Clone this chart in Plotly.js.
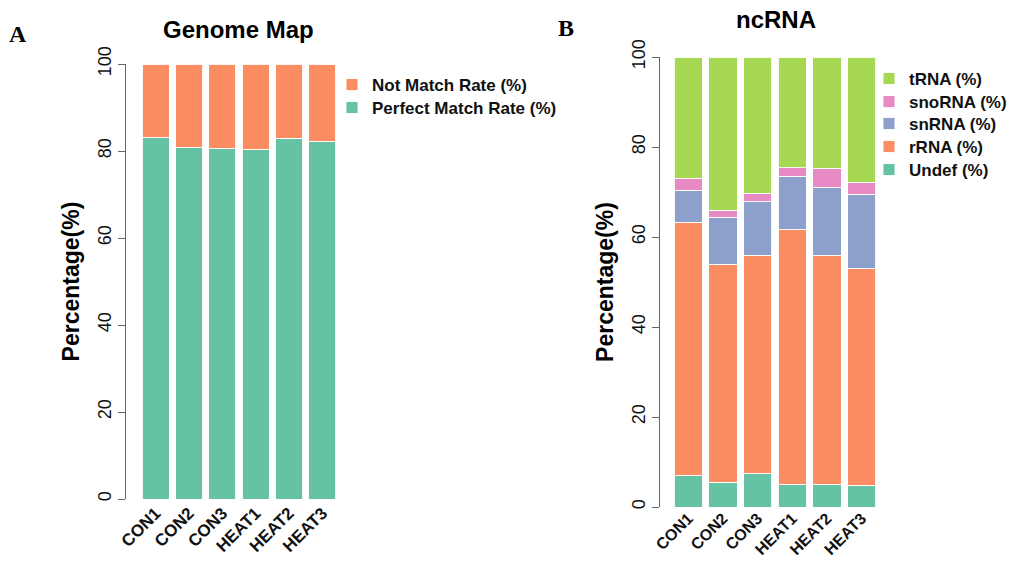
<!DOCTYPE html>
<html>
<head>
<meta charset="utf-8">
<script src="https://cdn.plot.ly/plotly-3.0.1.min.js"></script>
<style>html,body{margin:0;padding:0;background:#fff;}#chart{width:1020px;height:561px;}</style>
</head>
<body>
<div id="chart"></div>
<script>
// Sample names
const samples = ["CON1", "CON2", "CON3", "HEAT1", "HEAT2", "HEAT3"];

// Panel A: Genome Map (%)
const perfectMatch = [83.1, 80.8, 80.5, 80.3, 82.9, 82.1];
const notMatch = [16.9, 19.2, 19.5, 19.7, 17.1, 17.9];

// Panel B: ncRNA composition (%)
const undef = [6.9, 5.5, 7.4, 5.0, 4.9, 4.8];
const rRNA = [56.4, 48.5, 48.6, 56.6, 50.9, 48.2];
const snRNA = [7.1, 10.4, 11.8, 11.9, 15.2, 16.5];
const snoRNA = [2.6, 1.5, 1.8, 1.9, 4.3, 2.7];
const tRNA = [27.0, 34.1, 30.4, 24.6, 24.7, 27.8];

const yTicks = [0, 20, 40, 60, 80, 100];

const C = {green: "#66C2A5", orange: "#FC8D62", blue: "#8DA0CB", pink: "#E78AC3", lime: "#A6D854"};
const edge = {color: "rgba(255,255,255,0.9)", width: 1};
const SANS = "Liberation Sans, Arial, Helvetica, sans-serif";
const W = 1020, H = 561;

function bar(name, vals, color, xa, ya, leg) {
  return {type: "bar", name: name, x: samples, y: vals, xaxis: xa, yaxis: ya, legend: leg,
          marker: {color: color, line: edge}, hoverinfo: "x+y+name"};
}

const data = [
  bar("Perfect Match Rate (%)", perfectMatch, C.green, "x", "y", "legend2"),
  bar("Not Match Rate (%)", notMatch, C.orange, "x", "y", "legend"),
  bar("Undef (%)", undef, C.green, "x2", "y2", "legend7"),
  bar("rRNA (%)", rRNA, C.orange, "x2", "y2", "legend6"),
  bar("snRNA (%)", snRNA, C.blue, "x2", "y2", "legend5"),
  bar("snoRNA (%)", snoRNA, C.pink, "x2", "y2", "legend4"),
  bar("tRNA (%)", tRNA, C.lime, "x2", "y2", "legend3")
];

function yAxis(d0, d1, pos) {
  return {
    domain: [1 - d0 / H, 1 - d1 / H], anchor: "free", position: pos / W,
    range: [0, 100], tickmode: "array", tickvals: yTicks, ticktext: yTicks.map(String),
    ticks: "outside", ticklen: 7, tickcolor: "#666", tickwidth: 1,
    showline: true, linecolor: "#666", linewidth: 1, showgrid: false, zeroline: false,
    tickangle: -90, tickfont: {family: SANS, size: 18, color: "#111"},
    title: {text: "Percentage(%)", font: {family: SANS, size: 23, color: "#000", weight: "bold"}, standoff: 7},
    automargin: false, fixedrange: true
  };
}
function xAxis(a, b, anchor, fs, so) {
  return {
    domain: [a / W, b / W], anchor: anchor, type: "category", range: [-0.5, 5.5],
    showline: false, ticks: "", showgrid: false, zeroline: false,
    tickangle: -45, tickfont: {family: SANS, size: fs, color: "#111", weight: "bold"},
    ticklabelstandoff: so,
    automargin: false, fixedrange: true
  };
}
// one legend per row so each row sits at its own position
function leg(xSym, yRow) {
  return {x: (xSym - 21) / W, y: 1 - yRow / H, xanchor: "left", yanchor: "middle",
          font: {family: SANS, size: 17, color: "#111", weight: "bold"}, bgcolor: "rgba(0,0,0,0)"};
}

const layout = {
  width: W, height: H,
  margin: {l: 0, r: 0, t: 0, b: 0},
  paper_bgcolor: "#fff", plot_bgcolor: "#fff",
  barmode: "stack", bargap: 0.19,
  showlegend: true,
  xaxis: xAxis(139, 339, "y", 17, 0),
  yaxis: yAxis(499, 64, 125),
  xaxis2: xAxis(671, 879, "y2", 16, -2),
  yaxis2: yAxis(507, 57, 659),
  legend: leg(353, 85),
  legend2: leg(353, 108),
  legend3: leg(890, 79),
  legend4: leg(890, 102),
  legend5: leg(890, 124),
  legend6: leg(890, 147),
  legend7: leg(890, 170),
  annotations: [
    {text: "Genome Map", x: 238 / W, y: 1 - 30 / H, xref: "paper", yref: "paper", showarrow: false,
     xanchor: "center", yanchor: "middle", font: {family: SANS, size: 24, color: "#000", weight: "bold"}},
    {text: "ncRNA", x: 776 / W, y: 1 - 20 / H, xref: "paper", yref: "paper", showarrow: false,
     xanchor: "center", yanchor: "middle", font: {family: SANS, size: 24, color: "#000", weight: "bold"}},
    {text: "A", x: 18 / W, y: 1 - 34 / H, xref: "paper", yref: "paper", showarrow: false,
     xanchor: "center", yanchor: "middle", font: {family: "Liberation Serif, Times New Roman, serif", size: 24, color: "#000", weight: "bold"}},
    {text: "B", x: 566 / W, y: 1 - 28 / H, xref: "paper", yref: "paper", showarrow: false,
     xanchor: "center", yanchor: "middle", font: {family: "Liberation Serif, Times New Roman, serif", size: 24, color: "#000", weight: "bold"}}
  ]
};

Plotly.newPlot("chart", data, layout, {displayModeBar: false, staticPlot: true});
</script>
</body>
</html>
